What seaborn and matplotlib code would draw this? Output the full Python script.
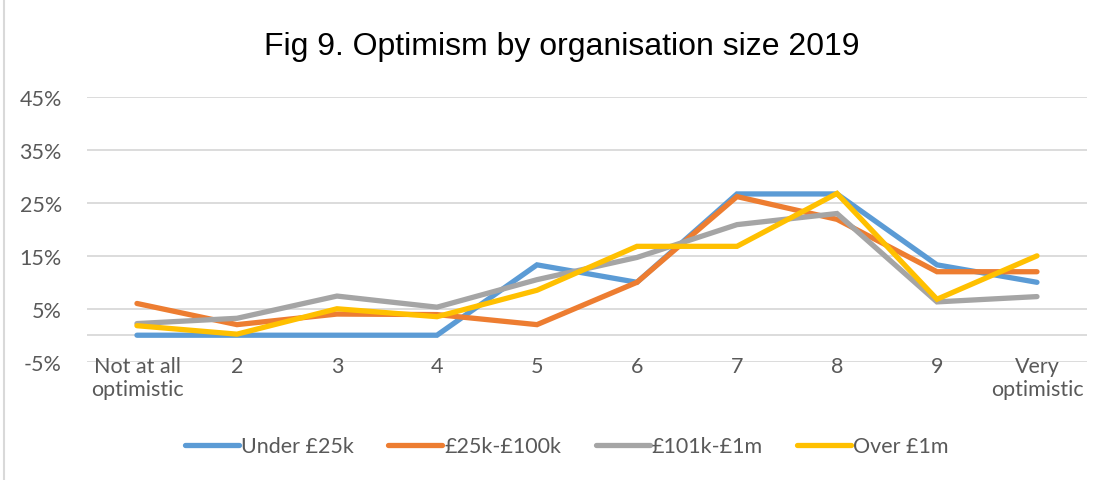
import pandas as pd
import numpy as np
import matplotlib
matplotlib.use("Agg")
import matplotlib.pyplot as plt
import seaborn as sns

# chart data
categories = ["Not at all\noptimistic", "2", "3", "4", "5", "6", "7", "8", "9", "Very\noptimistic"]
under_25k = [0.0, 0.0, 0.0, 0.0, 13.3, 10.0, 26.7, 26.7, 13.3, 10.0]
k25_100k = [6.0, 2.0, 4.0, 3.9, 2.0, 10.0, 26.2, 21.9, 12.0, 12.0]
k101_1m = [2.2, 3.2, 7.4, 5.3, 10.5, 14.7, 20.9, 23.0, 6.3, 7.3]
over_1m = [1.8, 0.2, 5.0, 3.5, 8.5, 16.8, 16.8, 26.8, 6.8, 15.0]
series_names = ["Under £25k", "£25k-£100k", "£101k-£1m", "Over £1m"]
yticks = [-5, 5, 15, 25, 35, 45]

colors = ["#5B9BD5", "#ED7D31", "#A5A5A5", "#FFC000"]

# long-form frame for seaborn
rows = []
for name, vals in zip(series_names, [under_25k, k25_100k, k101_1m, over_1m]):
    for i, v in enumerate(vals):
        rows.append({"pos": i, "value": v, "size": name})
df = pd.DataFrame(rows)

sns.set_theme(style="white")
plt.rcParams["font.family"] = ["Lato", "DejaVu Sans"]

fig = plt.figure(figsize=(11.12, 4.81), dpi=100)
ax = fig.add_axes([0.0782, 0.246, 0.8993, 0.550])

# gridlines drawn first so lines sit on top
for t in yticks:
    ax.axhline(t, color="#D9D9D9", lw=1.3, zorder=0)
ax.axhline(0, color="#D9D9D9", lw=1.3, zorder=0)

sns.lineplot(data=df, x="pos", y="value", hue="size", hue_order=series_names,
             palette=colors, linewidth=3.8, ax=ax, legend=True, zorder=3)
for ln in ax.lines:
    ln.set_solid_capstyle("round")
    ln.set_solid_joinstyle("miter")

ax.set_xlim(-0.5, 9.5)
ax.set_ylim(-5, 45)
ax.set_yticks(yticks)
ax.set_yticklabels([f"{t}%" for t in yticks], fontsize=15.5, color="#595959")
ax.set_xticks(range(len(categories)))
ax.set_xticklabels(categories, fontsize=15.5, color="#595959", linespacing=1.2)
ax.tick_params(axis="x", length=0, pad=-4)
ax.tick_params(axis="y", length=0, pad=18)
ax.set_xlabel("")
ax.set_ylabel("")
for s in ax.spines.values():
    s.set_visible(False)

leg = ax.legend(loc="center", bbox_to_anchor=(0.48, -0.32), ncol=4, frameon=False,
                fontsize=15.5, handlelength=2.5, handletextpad=0.1, columnspacing=1.6)
for h in leg.get_lines():
    h.set_linewidth(3.8)
    h.set_solid_capstyle("round")
for t in leg.get_texts():
    t.set_color("#595959")

fig.text(0.505, 0.903, "Fig 9. Optimism by organisation size 2019", ha="center", va="center",
         fontsize=23, color="#000000", family=["Liberation Sans", "DejaVu Sans"])

# light frame around the chart area
fig.patches.append(plt.Rectangle((0.004, -0.01), 1.5, 1.5, transform=fig.transFigure,
                                 fill=False, edgecolor="#D9D9D9", lw=1.5))

fig.savefig("out.png", dpi=100)
